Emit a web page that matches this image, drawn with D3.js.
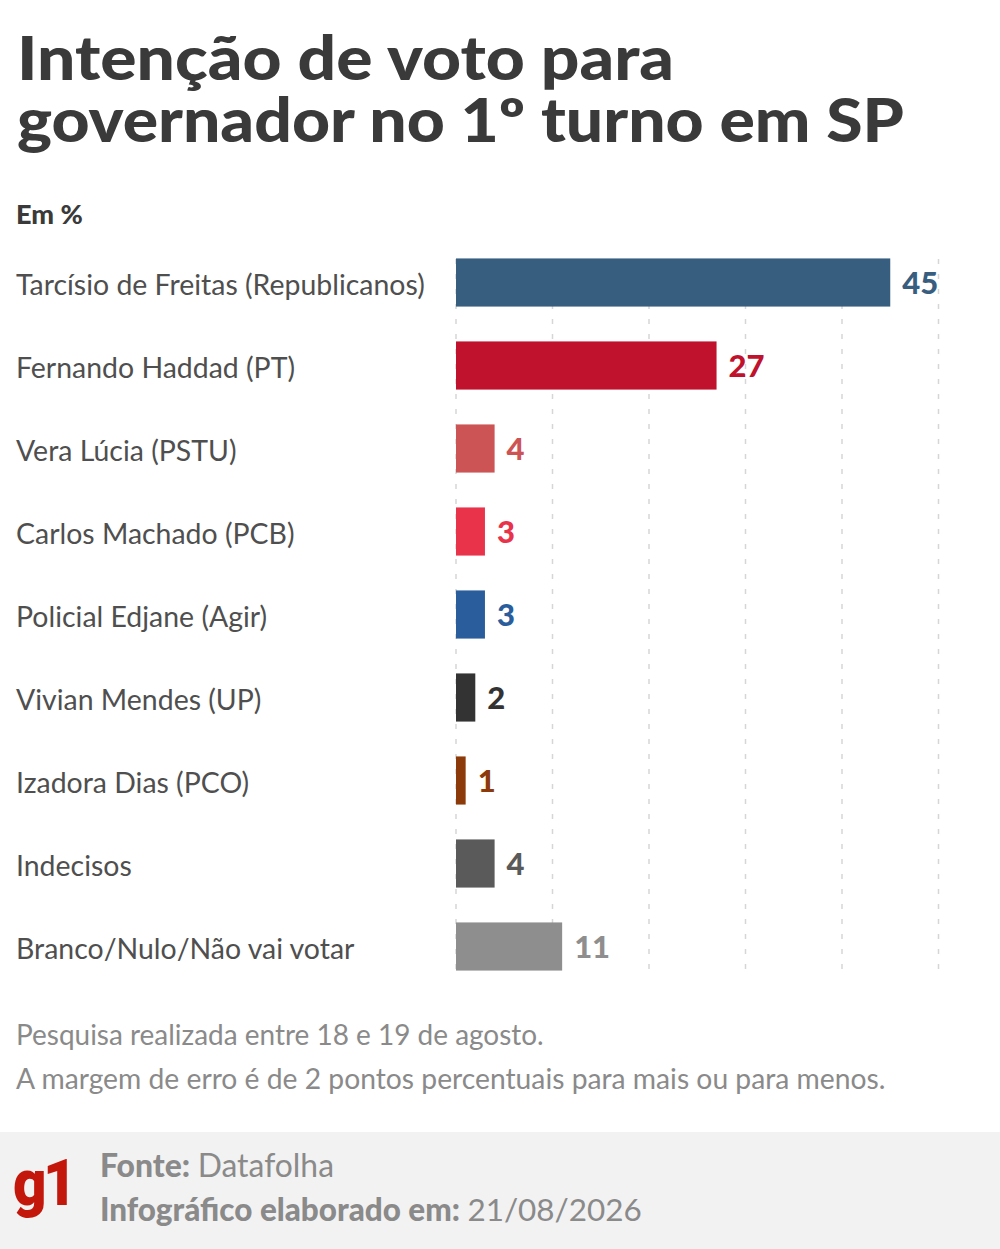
<!DOCTYPE html>
<html>
<head>
<meta charset="utf-8">
<script src="https://cdn.jsdelivr.net/npm/d3@7"></script>
<style>
  body { margin: 0; background: #fff; }
  svg { display: block; }
</style>
</head>
<body>
<div id="chart"></div>
<script>
// dados
var candidatos = ['Tarcísio de Freitas (Republicanos)', 'Fernando Haddad (PT)', 'Vera Lúcia (PSTU)',
  'Carlos Machado (PCB)', 'Policial Edjane (Agir)', 'Vivian Mendes (UP)', 'Izadora Dias (PCO)',
  'Indecisos', 'Branco/Nulo/Não vai votar'];
var votos = [45, 27, 4, 3, 3, 2, 1, 4, 11];
var cores = ['#375d7f', '#c0112d', '#cd5454', '#e8334a', '#2a5d9b', '#333333', '#8c3a0a', '#5a5a5a', '#8e8e8e'];
var coresRotulo = ['#375d7f', '#c0112d', '#cd5454', '#e8334a', '#2a5d9b', '#333333', '#8c3a0a', '#5a5a5a', '#8e8e8e'];
var ticks = [0, 10, 20, 30, 40, 50];

var W = 1000, H = 1249;
var svg = d3.select('#chart').append('svg')
  .attr('width', W)
  .attr('height', H);

var fonte = 'Lato, "Open Sans", sans-serif';

// encaixa um texto numa largura
var fit = function(sel, width) {
  var len = sel.node().getComputedTextLength();
  var fs = parseFloat(sel.attr('font-size'));
  sel.attr('font-size', fs * width / len);
};

// titulo (estica na largura, mantendo a altura)
var titulo = ['Intenção de voto para', 'governador no 1º turno em SP'];
var largTitulo = [657, 887];
svg.append('g').selectAll('text')
  .data(titulo)
  .enter()
  .append('text')
  .attr('x', 17)
  .attr('y', function(d, i) { return 80 + i * 62; })
  .attr('font-family', fonte)
  .attr('font-weight', 900)
  .attr('font-size', 60)
  .attr('fill', '#3a3a3a')
  .attr('textLength', function(d, i) { return largTitulo[i]; })
  .attr('lengthAdjust', 'spacingAndGlyphs')
  .text(function(d) { return d; });

svg.append('text').attr('x', 16).attr('y', 224)
  .attr('font-family', fonte).attr('font-weight', 900).attr('font-size', 27)
  .attr('fill', '#3a3a3a').text('Em %');

// escalas
var x = d3.scaleLinear().domain([0, 50]).range([456, 938.5]);
var y = d3.scaleBand().domain(candidatos).range([241, 988]).paddingInner(0.42).paddingOuter(0.21);

// grade tracejada
svg.append('g').selectAll('line')
  .data(ticks)
  .enter()
  .append('line')
  .attr('x1', function(d) { return x(d); })
  .attr('x2', function(d) { return x(d); })
  .attr('y1', 259)
  .attr('y2', 972)
  .attr('stroke', '#d6d6d6')
  .attr('stroke-width', 1.5)
  .attr('stroke-dasharray', '5,10');

// barras
svg.append('g').selectAll('rect')
  .data(votos)
  .enter()
  .append('rect')
  .attr('x', x(0))
  .attr('y', function(d, i) { return y(candidatos[i]); })
  .attr('width', function(d) { return x(d) - x(0); })
  .attr('height', y.bandwidth())
  .attr('fill', function(d, i) { return cores[i]; });

// nomes
var nomes = svg.append('g').selectAll('text')
  .data(candidatos)
  .enter()
  .append('text')
  .attr('x', 16)
  .attr('y', function(d) { return y(d) + y.bandwidth() / 2 + 3; })
  .attr('dy', '0.35em')
  .attr('font-family', fonte)
  .attr('font-size', 26)
  .attr('fill', '#4f4f4f')
  .text(function(d) { return d; });
var maior = nomes.filter(function(d, i) { return i === 0; });
var fsNome = 26 * 409 / maior.node().getComputedTextLength();
nomes.attr('font-size', fsNome);

// valores
svg.append('g').selectAll('text')
  .data(votos)
  .enter()
  .append('text')
  .attr('x', function(d) { return x(d) + 12; })
  .attr('y', function(d, i) { return y(candidatos[i]) + y.bandwidth() / 2 + 1; })
  .attr('dy', '0.35em')
  .attr('font-family', fonte)
  .attr('font-weight', 900)
  .attr('font-size', 31)
  .attr('fill', function(d, i) { return coresRotulo[i]; })
  .text(function(d) { return d; });

// notas
var n1 = svg.append('text').attr('x', 16).attr('y', 1045)
  .attr('font-family', fonte).attr('font-size', 25).attr('fill', '#8a8a8a')
  .text('Pesquisa realizada entre 18 e 19 de agosto.');
fit(n1, 528);
var n2 = svg.append('text').attr('x', 16).attr('y', 1089)
  .attr('font-family', fonte).attr('font-size', 25).attr('fill', '#8a8a8a')
  .text('A margem de erro é de 2 pontos percentuais para mais ou para menos.');
fit(n2, 870);

// rodape
svg.append('rect').attr('x', 0).attr('y', 1132).attr('width', W).attr('height', H - 1132)
  .attr('fill', '#f2f2f2');

svg.append('text').attr('x', 13).attr('y', 1205)
  .attr('font-family', 'Roboto, "Open Sans", sans-serif').attr('font-weight', 900).attr('font-size', 64)
  .attr('fill', '#c4170c').attr('letter-spacing', -4)
  .attr('textLength', 60).attr('lengthAdjust', 'spacingAndGlyphs')
  .text('g1');

var f1 = svg.append('text').attr('x', 100).attr('y', 1177)
  .attr('font-family', fonte).attr('font-size', 27).attr('fill', '#8a8a8a');
f1.append('tspan').attr('font-weight', 900).text('Fonte: ');
f1.append('tspan').text('Datafolha');
fit(f1, 234);

var f2 = svg.append('text').attr('x', 100).attr('y', 1221)
  .attr('font-family', fonte).attr('font-size', 27).attr('fill', '#8a8a8a');
f2.append('tspan').attr('font-weight', 900).text('Infográfico elaborado em: ');
f2.append('tspan').text('21/08/2026');
fit(f2, 542);
</script>
</body>
</html>
